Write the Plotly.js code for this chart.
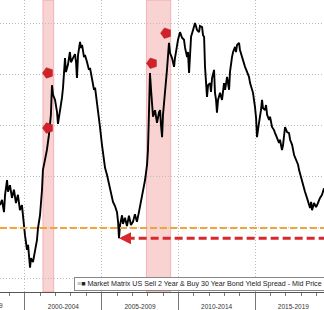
<!DOCTYPE html>
<html><head><meta charset="utf-8">
<script src="https://cdn.plot.ly/plotly-3.0.1.min.js"></script>
<style>html,body{margin:0;padding:0;background:#fff}#chart{width:324px;height:310px}</style>
</head><body><div id="chart"></div>
<script>
// 2s30s spread (bp) — decimal year
const years = [1998.37,1998.50,1998.63,1998.70,1998.83,1998.89,1999.02,1999.15,1999.28,1999.41,1999.54,1999.67,1999.80,1999.87,2000.00,2000.13,2000.20,2000.33,2000.39,2000.52,2000.65,2000.78,2000.85,2000.98,2001.11,2001.17,2001.30,2001.43,2001.56,2001.69,2001.76,2001.83,2001.96,2002.09,2002.15,2002.28,2002.41,2002.48,2002.61,2002.67,2002.80,2002.93,2003.00,2003.13,2003.26,2003.33,2003.39,2003.46,2003.59,2003.65,2003.72,2003.85,2003.91,2004.04,2004.17,2004.24,2004.37,2004.50,2004.57,2004.70,2004.83,2004.89,2005.02,2005.09,2005.22,2005.35,2005.54,2005.74,2005.87,2006.00,2006.07,2006.13,2006.20,2006.33,2006.39,2006.52,2006.65,2006.78,2006.91,2007.04,2007.17,2007.30,2007.43,2007.57,2007.70,2007.83,2007.96,2008.02,2008.09,2008.15,2008.22,2008.28,2008.35,2008.48,2008.61,2008.74,2008.81,2008.87,2008.94,2009.00,2009.13,2009.26,2009.39,2009.46,2009.59,2009.72,2009.78,2009.91,2009.98,2010.11,2010.24,2010.37,2010.44,2010.57,2010.63,2010.70,2010.76,2010.83,2010.96,2011.09,2011.22,2011.35,2011.41,2011.55,2011.61,2011.68,2011.74,2011.81,2011.87,2011.94,2012.07,2012.13,2012.20,2012.33,2012.39,2012.46,2012.52,2012.59,2012.72,2012.85,2012.98,2013.05,2013.18,2013.31,2013.37,2013.50,2013.57,2013.70,2013.76,2013.83,2013.96,2014.02,2014.15,2014.22,2014.35,2014.48,2014.61,2014.68,2014.81,2014.87,2015.00,2015.07,2015.13,2015.20,2015.26,2015.39,2015.46,2015.52,2015.65,2015.72,2015.79,2015.92,2015.98,2016.11,2016.24,2016.31,2016.44,2016.57,2016.63,2016.76,2016.83,2016.96,2017.09,2017.22,2017.29,2017.42,2017.55,2017.68,2017.81,2017.87,2018.00,2018.07,2018.20,2018.26,2018.39,2018.52,2018.59,2018.66,2018.72,2018.85,2018.98,2019.05,2019.18,2019.24,2019.37,2019.50];
const spread = [45,55,31,65,94,71,84,59,75,49,65,35,45,20,-14,-43,-33,-78,-59,-67,-43,-24,0,25,75,114,133,153,182,222,280,261,251,227,204,226,255,275,333,306,320,345,325,333,341,325,294,339,365,353,359,335,339,326,310,314,290,271,275,245,222,198,163,143,118,104,78,51,43,31,12,-20,6,25,8,20,4,24,6,12,27,12,31,51,71,94,124,153,231,304,271,247,218,231,206,227,231,202,178,222,276,310,363,343,333,316,333,363,369,384,373,369,353,335,345,304,339,375,388,402,388,384,396,394,378,375,316,290,257,280,284,267,294,310,265,251,226,251,265,251,284,271,296,271,306,335,345,355,345,359,363,349,335,326,316,306,296,284,271,265,237,216,178,196,206,231,251,235,231,241,222,212,218,198,192,186,178,167,173,153,163,198,188,186,173,163,143,133,124,114,98,90,78,71,59,45,39,51,35,49,41,45,55,59,65,78];

const recessionStarts = [2001.17, 2007.92];
const recessionEnds   = [2001.87, 2009.50];
const flagYears  = [2001.5, 2001.5, 2008.28, 2009.2];
const flagValues = [304, 196, 323, 382];
const refLevel = 0;          // orange dashed reference
const lowIdx = spread.indexOf(Math.min(...spread.slice(60, 90)));
const periodStarts = [2000, 2005, 2010, 2015];
const periodLabels = ['2000-2004', '2005-2009', '2010-2014', '2015-2019'];
const firstLabel = '1995-1999';
const yearTicks = [1999,2000,2001,2002,2003,2004,2005,2006,2007,2008,2009,2010,2011,2012,2013,2014,2015,2016,2017,2018,2019];
const seriesName = 'Market Matrix US Sell 2 Year & Buy 30 Year Bond Yield Spread - Mid Price';

const xRange = [1998.37, 2019.5];
const mids = periodStarts.map(s => s + 2.5);
const FONT = 'Liberation Sans, Arial, sans-serif';
const GRID = '#bdbdbd';

const traces = [
  {x: years, y: spread, type: 'scatter', mode: 'lines', name: seriesName,
   line: {color: '#000', width: 1.9}, showlegend: false, hoverinfo: 'skip'},
  {x: flagYears, y: flagValues, type: 'scatter', mode: 'markers', xaxis: 'x2', showlegend: false,
   marker: {symbol: 'pentagon', angle: -90, size: 11, color: '#cf2229', line: {color: '#b01a20', width: 0.5}}, hoverinfo: 'skip'},
  {x: [xRange[0]], y: [null], xaxis: 'x3', type: 'scatter', mode: 'markers', showlegend: false, hoverinfo: 'skip'}
];

const shapes = [];
recessionStarts.forEach((s, i) => shapes.push({
  type: 'rect', xref: 'x', yref: 'paper', x0: s, x1: recessionEnds[i], y0: 0, y1: 1,
  fillcolor: 'rgba(244,165,165,0.5)', line: {color: 'rgba(236,140,140,0.55)', width: 1}, layer: 'below'}));
shapes.push({type: 'line', xref: 'paper', yref: 'y', x0: 0, x1: 1, y0: refLevel, y1: refLevel,
  line: {color: '#f4a23a', width: 2, dash: '7px,3px'}});
shapes.push({type: 'line', xref: 'x', yref: 'y', x0: years[lowIdx] + 0.5, x1: xRange[1], y0: spread[lowIdx], y1: spread[lowIdx],
  line: {color: '#d8282c', width: 3, dash: '8px,4px'}});

const annotations = [
  {x: years[lowIdx], y: spread[lowIdx], xref: 'x', yref: 'y', text: '', showarrow: true,
   ax: 8, ay: 0, arrowhead: 2, arrowsize: 0.8, arrowwidth: 3, arrowcolor: '#d8282c'},
  {xref: 'paper', yref: 'paper', x: 74/324, y: 15/292, xanchor: 'left', yanchor: 'top', width: 264,
   text: '<span style="color:#999">≡</span>■ ' + seriesName, showarrow: false, align: 'left',
   font: {family: FONT, size: 7.1, color: '#222'},
   bgcolor: '#fff', bordercolor: '#888', borderwidth: 1, borderpad: 2}
];

const layout = {
  width: 324, height: 310, margin: {l: 0, r: 0, t: 0, b: 18},
  paper_bgcolor: '#fff', plot_bgcolor: '#fff', showlegend: false,
  xaxis: {range: xRange, tickmode: 'array', tickvals: mids, ticktext: periodLabels, ticks: '',
    showgrid: false, zeroline: false, showline: true, linecolor: '#555', linewidth: 1,
    tickfont: {family: FONT, size: 6.5, color: '#333'}, ticklabelstandoff: 8},
  xaxis2: {range: xRange, overlaying: 'x', anchor: 'y', side: 'bottom', tickmode: 'array', tickvals: periodStarts,
    showticklabels: false, ticks: 'outside', ticklen: 20, tickcolor: '#777', tickwidth: 1,
    showgrid: true, griddash: '1px,2px', gridcolor: GRID, gridwidth: 1, zeroline: false,
    minor: {tickmode: 'array', tickvals: yearTicks, ticks: 'outside', ticklen: 3, tickcolor: '#777', showgrid: false}},
  xaxis3: {range: xRange, overlaying: 'x', anchor: 'y', side: 'bottom', tickmode: 'array', tickvals: [periodStarts[0]],
    ticktext: [firstLabel], ticks: '', showgrid: false, zeroline: false, ticklabelshift: -38, ticklabelstandoff: 8,
    ticklabeloverflow: 'allow', tickfont: {family: FONT, size: 6.5, color: '#333'}},
  yaxis: {range: [-125.5, 447], tickmode: 'linear', tick0: 0, dtick: 100, showticklabels: false, ticks: '',
    showgrid: true, griddash: '1px,2px', gridcolor: GRID, gridwidth: 1, zeroline: false},
  shapes: shapes, annotations: annotations
};

Plotly.newPlot('chart', traces, layout, {staticPlot: true, displayModeBar: false});
</script></body></html>
